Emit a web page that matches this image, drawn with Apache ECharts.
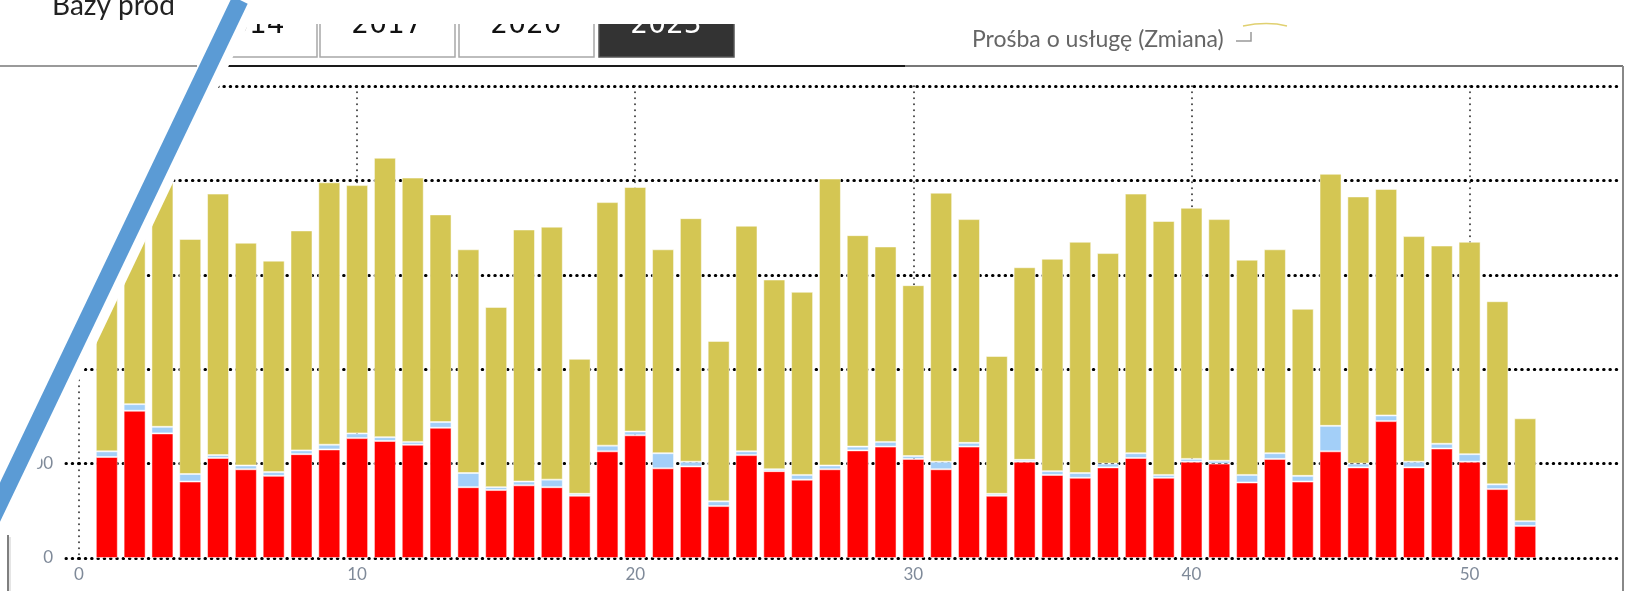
<!DOCTYPE html>
<html>
<head>
<meta charset="utf-8">
<script src="https://cdn.jsdelivr.net/npm/echarts@6/dist/echarts.min.js"></script>
<style>
html,body{margin:0;padding:0;background:#fff;}
#chart{width:1626px;height:591px;}
</style>
</head>
<body>
<div id="chart"></div>
<script>
// week numbers (x positions)
const weeks = ['1','2','3','4','5','6','7','8','9','10','11','12','13','14','15','16','17','18','19','20','21','22','23','24','25','26','27','28','29','30','31','32','33','34','35','36','37','38','39','40','41','42','43','44','45','46','47','48','49','50','51','52'];
// red segment (bottom)
const redValues = [107,156,132,81,106,94,87,110,115,127,124,120,138,75,72,77,75,66,113,130,95,97,55,109,92,83,94,114,118,105,94,118,66,102,88,85,96,106,85,102,100,80,105,81,113,96,145,96,116,102,73,34];
// light blue segment (middle)
const blueValues = [6,7,7,8,3,4,4,4,5,5,4,3,6,15,3,4,8,2,6,4,16,5,5,4,2,5,4,4,5,3,8,4,2,2,4,5,4,5,3,3,3,8,6,6,27,4,6,6,5,8,5,5];
// yellow segment (top)
const yellowValues = [217,227,271,249,277,236,224,233,278,263,296,280,220,237,191,267,268,143,258,259,216,258,170,239,201,194,304,224,207,181,285,237,146,204,225,245,223,275,269,266,256,228,216,177,267,283,240,239,210,225,194,109];
const legendLabel = 'Prośba o usługę (Zmiana)';
const yearButtons = ['2014','2017','2020','2023'];
const headerText = 'Bazy prod';

const hDot = { color: '#000', width: 3, type: [0.5, 5.8], cap: 'round' };
const vDot = { color: '#222', width: 1.6, type: [0.5, 5.5], cap: 'round' };

const chart = echarts.init(document.getElementById('chart'), null, { renderer: 'canvas' });

// plot geometry
const L = 79, R = 1617, XMAX = 55.3;
const unit = (R - L) / XMAX;

const graphics = [];
const btnX = [182, 320, 459, 599];
yearButtons.forEach((t, i) => {
  const dark = i === 3;
  graphics.push({
    type: 'rect', z: 50,
    shape: { x: btnX[i], y: -10, width: 135, height: 67 },
    style: { fill: dark ? '#333333' : '#ffffff', stroke: dark ? '#555' : '#a8a8a8', lineWidth: 1.5 }
  });
  graphics.push({
    type: 'text', z: 51,
    style: { text: t, x: btnX[i] + 67, y: 26, align: 'center', verticalAlign: 'middle',
      font: '28px "DejaVu Sans", sans-serif', fill: dark ? '#ffffff' : '#111' }
  });
});
graphics.push({ type: 'rect', z: 55, shape: { x: 170, y: 0, width: 600, height: 24 }, style: { fill: '#fff' } });
graphics.push({ type: 'line', z: 52, shape: { x1: 200, y1: 66, x2: 905, y2: 66 }, style: { stroke: '#1a1a1a', lineWidth: 2 } });
graphics.push({ type: 'line', z: 52, shape: { x1: 905, y1: 66, x2: 1623, y2: 66 }, style: { stroke: '#777', lineWidth: 2 } });
graphics.push({ type: 'line', z: 52, shape: { x1: 1623, y1: 66, x2: 1623, y2: 591 }, style: { stroke: '#888', lineWidth: 2 } });
graphics.push({ type: 'text', z: 52, style: { text: legendLabel, x: 972, y: 40, verticalAlign: 'middle',
  font: '23px Lato, sans-serif', fill: '#666' } });
graphics.push({ type: 'polyline', z: 52, shape: { points: [[1236, 41], [1251, 41], [1251, 32]] }, style: { stroke: '#999', lineWidth: 1.5, fill: null } });
graphics.push({ type: 'bezierCurve', z: 52, shape: { x1: 1243, y1: 26, x2: 1287, y2: 26, cpx1: 1258, cpy1: 23, cpx2: 1275, cpy2: 23 }, style: { stroke: '#e0d070', lineWidth: 1.5, fill: null } });
graphics.push({ type: 'polygon', z: 60, shape: { points: [[0, 0], [260, 0], [0, 546]] }, style: { fill: '#ffffff' } });
graphics.push({ type: 'text', z: 70, style: { text: headerText, x: 52, y: 20, verticalAlign: 'bottom',
  font: '28px Lato, sans-serif', fill: '#222' } });
graphics.push({ type: 'line', z: 70, shape: { x1: 0, y1: 66, x2: 197, y2: 66 }, style: { stroke: '#9a9a9a', lineWidth: 2 } });
graphics.push({ type: 'line', z: 70, shape: { x1: 8, y1: 535, x2: 8, y2: 591 }, style: { stroke: '#555', lineWidth: 1.5 } });
graphics.push({ type: 'line', z: 70, shape: { x1: 10, y1: 537, x2: 10, y2: 591 }, style: { stroke: '#ddd', lineWidth: 1.5 } });
graphics.push({ type: 'line', z: 80, shape: { x1: 240, y1: 0, x2: 240 - 0.478 * 591, y2: 591 }, style: { stroke: '#5b9bd5', lineWidth: 17 } });

const barItem = (c) => ({ color: c, borderColor: 'rgba(255,255,255,0.5)', borderWidth: 1 });

chart.setOption({
  animation: false,
  backgroundColor: '#ffffff',
  grid: [
    { left: L, right: 1626 - R, top: 86, bottom: 33 },
    { left: L + unit * 0.5, width: unit * weeks.length, top: 86, bottom: 33 }
  ],
  xAxis: [
    {
      gridIndex: 0, type: 'value', min: 0, max: XMAX, interval: 10,
      axisLine: { show: false }, axisTick: { show: false },
      axisLabel: { showMaxLabel: false, color: '#7f8a99', fontSize: 17, margin: 8, fontFamily: 'Lato, sans-serif' },
      splitLine: { show: true, showMinLine: true, showMaxLine: false, lineStyle: vDot }
    },
    { gridIndex: 1, type: 'category', data: weeks, show: false, boundaryGap: true }
  ],
  yAxis: [
    {
      gridIndex: 0, type: 'value', min: 0, max: 500, interval: 100,
      axisLine: { show: false },
      axisTick: { show: true, length: 13, lineStyle: hDot },
      axisLabel: { color: '#7f8a99', fontSize: 17, margin: 26, fontFamily: 'Lato, sans-serif' },
      splitLine: { show: true, lineStyle: hDot }
    },
    { gridIndex: 1, type: 'value', min: 0, max: 500, show: false, splitLine: { show: false } }
  ],
  series: [
    { name: 'red', type: 'bar', stack: 'total', barWidth: 22, xAxisIndex: 1, yAxisIndex: 1, data: redValues, itemStyle: barItem('#ff0000') },
    { name: 'blue', type: 'bar', stack: 'total', barWidth: 22, xAxisIndex: 1, yAxisIndex: 1, data: blueValues, itemStyle: barItem('#a3cff8') },
    { name: 'yellow', type: 'bar', stack: 'total', barWidth: 22, xAxisIndex: 1, yAxisIndex: 1, data: yellowValues, itemStyle: barItem('#d4c653') }
  ],
  graphic: { elements: graphics }
});
</script>
</body>
</html>
